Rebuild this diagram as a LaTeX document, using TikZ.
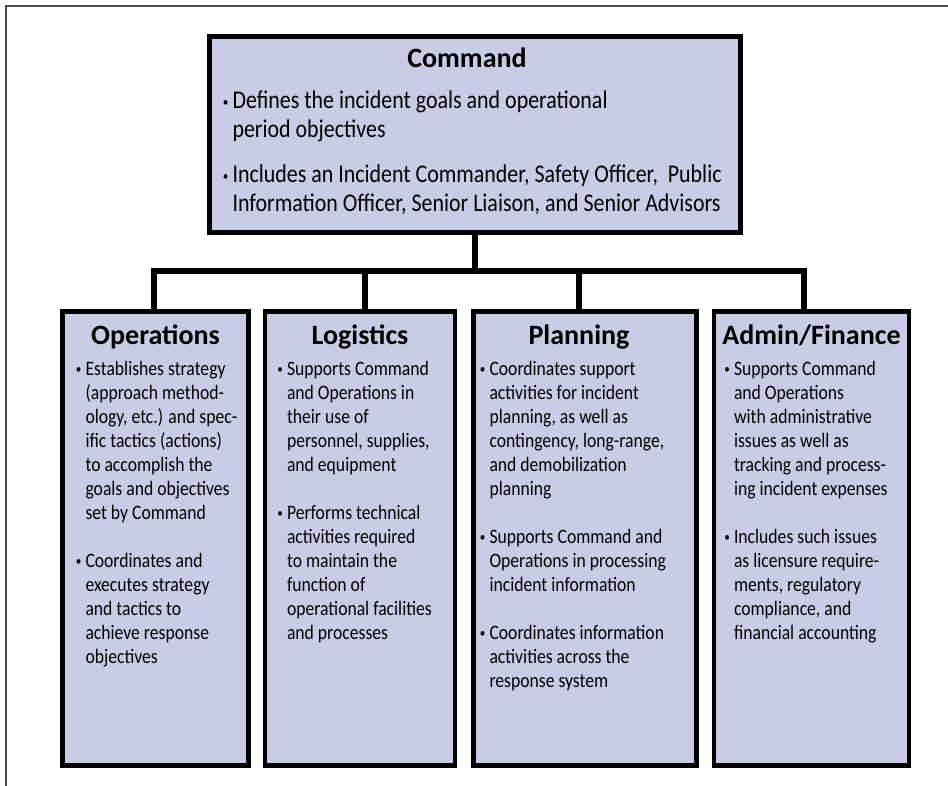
\documentclass[tikz,border=0pt]{standalone}
\usepackage{fontspec}
\setmainfont{Carlito}
\newfontfamily\bodyfont[FakeStretch=0.86]{Carlito}
\usetikzlibrary{positioning}
\definecolor{unitfill}{RGB}{200,204,228}
\newcommand{\bul}{\raisebox{2pt}{\fontsize{13}{13}\selectfont\textbullet}}
\newcommand{\duties}[1]{\begin{tabular}[t]{@{}l@{\hspace{4pt}}l@{}}#1\end{tabular}}

\tikzset{
	unitbox/.style={draw=black, line width=4.5pt, fill=unitfill, inner sep=0pt, minimum height=454pt},
	unittitle/.style={anchor=base, inner sep=0pt, font=\fontsize{28}{30}\selectfont\bfseries},
	unittext/.style={anchor=base west, inner sep=0pt, align=left, font=\bodyfont\fontsize{20.5}{24}\selectfont},
	cmdtext/.style={unittext, font=\bodyfont\fontsize{25.5}{29}\selectfont},
	link/.style={line width=6pt, line join=miter}
}

\begin{document}
\begin{tikzpicture}[x=1pt, y=-1pt]
	\useasboundingbox (0,0) rectangle (948,786);
	% page frame (cut at right and bottom)
	\draw[line width=2pt, black!70] (6,786) -- (6,6) -- (948,6);

	% command box
	\node[unitbox, minimum width=531pt, minimum height=196pt] (cmd) at (475,134.5) {};
	\node[unittitle] (cmdTitle) at ([xshift=-8, yshift=-33]cmd.north) {Command};
	\node[cmdtext] (cmdText) at ([xshift=15.5, yshift=-74.5]cmd.north west) {\duties{
		\bul & Defines the incident goals and operational\\
		     & period objectives\\[16pt]
		\bul & Includes an Incident Commander, Safety Officer,\ \ Public\\
		     & Information Officer, Senior Liaison, and Senior Advisors}};

	% four sections
	\node[unitbox, minimum width=186pt] (ops) at (155.5,538.5) {};
	\node[unitbox, minimum width=190pt, right=12pt of ops] (log) {};
	\node[unitbox, minimum width=223pt, right=14pt of log] (plan) {};
	\node[unitbox, minimum width=195pt, right=13pt of plan] (adm) {};

	% tree lines
	\coordinate (bus) at (0,271.5);
	\draw[link] (cmd.south) -- (cmd.south |- bus);
	\draw[link] ([xshift=-1.5]ops.north) |- ([xshift=-8]adm.north |- bus) -- ([xshift=-8]adm.north);
	\draw[link] ([xshift=4.5]log.north) -- ([xshift=4.5]log.north |- bus);
	\draw[link] ([xshift=-6]plan.north) -- ([xshift=-6]plan.north |- bus);

	\node[unittitle] (opsTitle) at ([yshift=-35]ops.north) {Operations};
	\node[unittitle] (logTitle) at ([yshift=-35]log.north) {Logistics};
	\node[unittitle] (planTitle) at ([xshift=-6, yshift=-35]plan.north) {Planning};
	\node[unittitle] (admTitle) at ([yshift=-35]adm.north) {Admin/Finance};

	\node[unittext] (opsText) at ([xshift=15.5, yshift=-66]ops.north west) {\duties{
		\bul & Establishes strategy\\ & (approach method-\\ & ology, etc.) and spec-\\
		     & ific tactics (actions)\\ & to accomplish the\\ & goals and objectives\\
		     & set by Command\\[24pt]
		\bul & Coordinates and\\ & executes strategy\\ & and tactics to\\
		     & achieve response\\ & objectives}};
	\node[unittext] (logText) at ([xshift=14.5, yshift=-66]log.north west) {\duties{
		\bul & Supports Command\\ & and Operations in\\ & their use of\\
		     & personnel, supplies,\\ & and equipment\\[24pt]
		\bul & Performs technical\\ & activities required\\ & to maintain the\\
		     & function of\\ & operational facilities\\ & and processes}};
	\node[unittext] (planText) at ([xshift=8.5, yshift=-66]plan.north west) {\duties{
		\bul & Coordinates support\\ & activities for incident\\ & planning, as well as\\
		     & contingency, long-range,\\ & and demobilization\\ & planning\\[24pt]
		\bul & Supports Command and\\ & Operations in processing\\ & incident information\\[24pt]
		\bul & Coordinates information\\ & activities across the\\ & response system}};
	\node[unittext] (admText) at ([xshift=12.5, yshift=-66]adm.north west) {\duties{
		\bul & Supports Command\\ & and Operations\\ & with administrative\\
		     & issues as well as\\ & tracking and process-\\ & ing incident expenses\\[24pt]
		\bul & Includes such issues\\ & as licensure require-\\ & ments, regulatory\\
		     & compliance, and\\ & financial accounting}};
\end{tikzpicture}
\end{document}
